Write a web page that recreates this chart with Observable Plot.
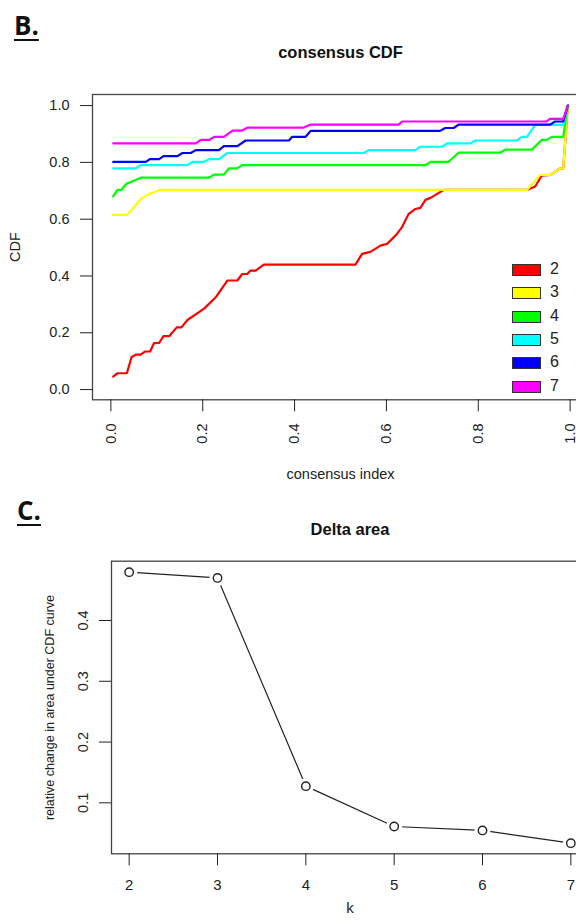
<!DOCTYPE html>
<html>
<head>
<meta charset="utf-8">
<script src="https://cdn.jsdelivr.net/npm/d3@7"></script>
<script src="https://cdn.jsdelivr.net/npm/@observablehq/plot@0.6"></script>
<style>
  html, body { margin: 0; padding: 0; background: #fff; overflow: hidden; width: 576px; height: 920px; }
  #page { position: relative; width: 576px; height: 920px; overflow: hidden; font-family: "Liberation Sans", Arial, sans-serif; }
  .panel-label { position: absolute; font-family: "Open Sans", sans-serif; font-weight: 700; font-size: 26px; line-height: 26px; color: #111; text-decoration: underline; text-decoration-thickness: 2px; text-underline-offset: 4px; }
  .abs { position: absolute; top: 0; left: 0; width: 600px; }
  .abs svg { max-width: none !important; width: 600px; }
  #legend { position: absolute; left: 512px; top: 264px; }
  .lg-row { position: absolute; left: 0; width: 60px; height: 12px; }
  .lg-sw { position: absolute; left: 0; top: 0; width: 27px; height: 10px; border: 1px solid #333; }
  .lg-tx { position: absolute; left: 38px; top: -4px; font-size: 16px; line-height: 18px; color: #222; font-family: "Liberation Sans", Arial, sans-serif; }
</style>
</head>
<body>
<div id="page">
  <div id="top" class="abs"></div>
  <div id="bottom" class="abs" style="top:490px;"></div>
  <div id="legend"></div>
  <div class="panel-label" style="left:14px; top:12px;">B.</div>
  <div class="panel-label" style="left:17px; top:497px;">C.</div>
</div>
<script>
// ---------- Panel B: consensus CDF (vertices) ----------
const clusterKeys = ["2", "3", "4", "5", "6", "7"];
const clusterColors = ["#FF0000", "#FFFF00", "#00FF00", "#00FFFF", "#0000FF", "#FF00FF"];

const cdfK2 = [[0.005,0.046],[0.0145,0.0575],[0.0348,0.0575],[0.045,0.114],[0.054,0.123],[0.065,0.123],[0.074,0.134],[0.0855,0.134],[0.094,0.164],[0.105,0.164],[0.1145,0.188],[0.127,0.188],[0.1435,0.219],[0.1536,0.219],[0.1667,0.245],[0.203,0.285],[0.2283,0.325],[0.2536,0.384],[0.2754,0.384],[0.286,0.407],[0.297,0.407],[0.3043,0.419],[0.3152,0.419],[0.333,0.440],[0.5326,0.440],[0.547,0.478],[0.565,0.485],[0.587,0.507],[0.6014,0.513],[0.623,0.548],[0.634,0.572],[0.6486,0.619],[0.663,0.636],[0.674,0.640],[0.685,0.668],[0.696,0.675],[0.725,0.703],[0.906,0.703],[0.924,0.715],[0.938,0.7535],[0.957,0.756],[0.978,0.779],[0.985,0.779],[0.995,1.0]];
const cdfK3 = [[0.005,0.615],[0.0348,0.615],[0.0471,0.636],[0.065,0.671],[0.0833,0.689],[0.094,0.695],[0.105,0.703],[0.906,0.703],[0.935,0.756],[0.957,0.756],[0.978,0.779],[0.985,0.779],[0.995,1.0]];
const cdfK4 = [[0.005,0.680],[0.0145,0.703],[0.0225,0.703],[0.0333,0.724],[0.065,0.746],[0.214,0.746],[0.2246,0.757],[0.246,0.757],[0.257,0.779],[0.275,0.779],[0.286,0.790],[0.685,0.790],[0.696,0.802],[0.7355,0.802],[0.757,0.834],[0.848,0.834],[0.8587,0.845],[0.9167,0.845],[0.938,0.879],[0.949,0.879],[0.960,0.890],[0.985,0.890],[0.995,1.0]];
const cdfK5 = [[0.005,0.779],[0.054,0.779],[0.065,0.790],[0.167,0.790],[0.1775,0.802],[0.203,0.802],[0.214,0.8115],[0.2355,0.8115],[0.2536,0.833],[0.551,0.833],[0.561,0.843],[0.663,0.843],[0.674,0.855],[0.721,0.855],[0.732,0.867],[0.783,0.867],[0.793,0.877],[0.884,0.877],[0.895,0.890],[0.906,0.890],[0.924,0.932],[0.985,0.932],[0.995,1.0]];
const cdfK6 = [[0.005,0.802],[0.076,0.802],[0.085,0.8115],[0.105,0.8115],[0.1145,0.822],[0.145,0.822],[0.156,0.833],[0.174,0.833],[0.185,0.843],[0.2355,0.843],[0.246,0.857],[0.2754,0.857],[0.2935,0.877],[0.3877,0.877],[0.395,0.890],[0.424,0.890],[0.435,0.911],[0.717,0.911],[0.728,0.921],[0.7464,0.921],[0.757,0.933],[0.9565,0.933],[0.967,0.944],[0.985,0.944],[0.995,1.0]];
const cdfK7 = [[0.005,0.867],[0.185,0.867],[0.196,0.879],[0.214,0.879],[0.225,0.890],[0.246,0.890],[0.265,0.912],[0.286,0.912],[0.297,0.9225],[0.42,0.9225],[0.435,0.933],[0.627,0.933],[0.634,0.944],[0.949,0.944],[0.956,0.953],[0.985,0.953],[0.995,1.0]];
const cdfTicksX = [0, 0.2, 0.4, 0.6, 0.8, 1.0];
const cdfTicksY = [0, 0.2, 0.4, 0.6, 0.8, 1.0];

// ---------- Panel C: Delta area ----------
const kValues = [2, 3, 4, 5, 6, 7];
const deltaArea = [0.4795, 0.470, 0.1274, 0.061, 0.0545, 0.0336];
const deltaTicksY = [0.1, 0.2, 0.3, 0.4];

// ---------- build tables ----------
const cdfSeries = [cdfK2, cdfK3, cdfK4, cdfK5, cdfK6, cdfK7];
const cdfRows = cdfSeries.flatMap((s, i) => s.map(([x, y]) => ({k: clusterKeys[i], x, y})));
const deltaRows = kValues.map((k, i) => ({k, d: deltaArea[i]}));

const fontFam = "'Liberation Sans', Arial, Helvetica, sans-serif";
const ink = "#222";

const topPlot = Plot.plot({
  width: 600, height: 500,
  marginLeft: 92, marginRight: 12, marginTop: 94, marginBottom: 100.7,
  style: {fontFamily: fontFam, fontSize: "14.5px", color: ink, background: "transparent", overflow: "visible", maxWidth: "none"},
  x: {domain: [-0.04, 1.04]},
  y: {domain: [-0.036, 1.039]},
  color: {type: "ordinal", domain: clusterKeys, range: clusterColors},
  marks: [
    Plot.line(cdfRows, {x: "x", y: "y", z: "k", stroke: "k", strokeWidth: 2.2, strokeLinejoin: "round", strokeLinecap: "round"}),
    Plot.frame({stroke: "#444", strokeWidth: 1.3}),
    Plot.axisY({ticks: cdfTicksY, tickSize: 12, tickPadding: 11, tickFormat: d => d.toFixed(1), label: null, fontSize: 14.5}),
    Plot.axisX({ticks: cdfTicksX, tickSize: 12, tickFormat: () => "", label: null}),
    Plot.text(cdfTicksX, {x: d => d, frameAnchor: "bottom", dy: 23.7, rotate: -90, textAnchor: "end", lineAnchor: "middle", text: d => d.toFixed(1), fontSize: 14.5, fill: ink}),
    Plot.text(["consensus CDF"], {frameAnchor: "top", dy: -48, fontWeight: "bold", fontSize: 16.5, fill: "#111"}),
    Plot.text(["consensus index"], {frameAnchor: "bottom", dy: 79, fontSize: 14.5, fill: ink}),
    Plot.text(["CDF"], {frameAnchor: "left", dx: -77, rotate: -90, textAnchor: "middle", fontSize: 14.5, fill: ink})
  ]
});
document.getElementById("top").appendChild(topPlot);

const bottomPlot = Plot.plot({
  width: 600, height: 430,
  marginLeft: 111, marginRight: 12, marginTop: 70.7, marginBottom: 66.7,
  style: {fontFamily: fontFam, fontSize: "15px", color: ink, background: "transparent", overflow: "visible", maxWidth: "none"},
  x: {domain: [1.8, 7.2]},
  y: {domain: [0.0161, 0.4976]},
  marks: [
    Plot.line(deltaRows, {x: "k", y: "d", stroke: ink, strokeWidth: 1.2}),
    Plot.dot(deltaRows, {x: "k", y: "d", r: 8, fill: "white", stroke: "none"}),
    Plot.dot(deltaRows, {x: "k", y: "d", r: 4.2, fill: "white", stroke: ink, strokeWidth: 1.4}),
    Plot.frame({stroke: "#444", strokeWidth: 1.3}),
    Plot.axisX({ticks: kValues, tickSize: 12, tickPadding: 14, tickFormat: d => String(d), label: null, fontSize: 15}),
    Plot.axisY({ticks: deltaTicksY, tickSize: 12, tickFormat: () => "", label: null}),
    Plot.text(deltaTicksY, {y: d => d, frameAnchor: "left", dx: -24, rotate: -90, textAnchor: "middle", lineAnchor: "bottom", text: d => d.toFixed(1), fontSize: 14.5, fill: ink}),
    Plot.text(["Delta area"], {frameAnchor: "top", dy: -38, fontWeight: "bold", fontSize: 16.5, fill: "#111"}),
    Plot.text(["k"], {frameAnchor: "bottom", dy: 59, fontSize: 15, fill: ink}),
    Plot.text(["relative change in area under CDF curve"], {frameAnchor: "left", dx: -62, rotate: -90, textAnchor: "middle", fontSize: 12.5, fill: ink})
  ]
});
document.getElementById("bottom").appendChild(bottomPlot);

// ---------- legend (HTML, added over the plot) ----------
const legend = document.getElementById("legend");
clusterKeys.forEach((key, i) => {
  const row = document.createElement("div");
  row.className = "lg-row";
  row.style.top = (i * 23.33) + "px";
  const sw = document.createElement("div");
  sw.className = "lg-sw";
  sw.style.background = clusterColors[i];
  const tx = document.createElement("div");
  tx.className = "lg-tx";
  tx.textContent = key;
  row.appendChild(sw); row.appendChild(tx);
  legend.appendChild(row);
});
</script>
</body>
</html>
